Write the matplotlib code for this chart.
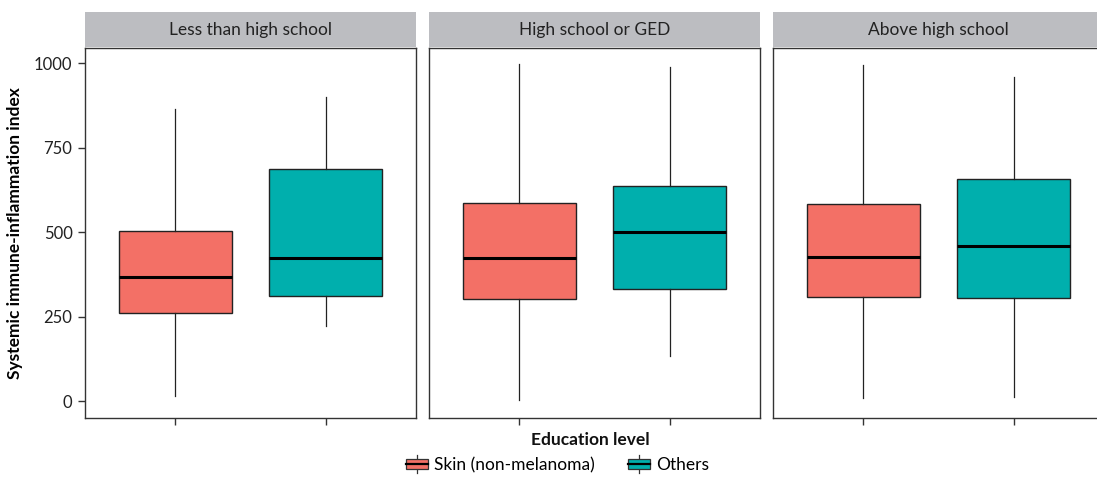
import matplotlib.pyplot as plt
import matplotlib.patches as mpatches
from matplotlib.legend_handler import HandlerBase
from matplotlib.lines import Line2D

plt.rcParams['font.family'] = ['Lato', 'DejaVu Sans']

# education levels (facets) and cancer groups
levels = ['Less than high school', 'High school or GED', 'Above high school']
groups = ['Skin (non-melanoma)', 'Others']
colors = ['#F37066', '#00AFAD']

# box statistics per facet: [skin, others]
whislo = [[16, 223], [2, 133], [10, 12]]
q1 = [[262, 312], [302, 331], [308, 306]]
med = [[366, 423], [423, 500], [427, 459]]
q3 = [[504, 687], [586, 636], [584, 656]]
whishi = [[864, 899], [998, 988], [996, 960]]

fig = plt.figure(figsize=(10.97, 4.79), dpi=100)
W, H = 1097, 479
lefts = [85, 429, 773]
pw = 331
top, bottom = 48, 418
strip_top = 12
frame_col = '#333333'

for k, lev in enumerate(levels):
    ax = fig.add_axes([lefts[k] / W, 1 - bottom / H, pw / W, (bottom - top) / H])
    stats = []
    for g in range(2):
        stats.append(dict(whislo=whislo[k][g], q1=q1[k][g], med=med[k][g],
                          q3=q3[k][g], whishi=whishi[k][g], fliers=[]))
    bp = ax.bxp(stats, positions=[1, 2], widths=0.75, patch_artist=True,
                showcaps=False,
                boxprops=dict(linewidth=1.0, edgecolor='#222222'),
                medianprops=dict(color='black', linewidth=2.2),
                whiskerprops=dict(color='#222222', linewidth=0.9))
    for patch, c in zip(bp['boxes'], colors):
        patch.set_facecolor(c)
    ax.set_xlim(0.4, 2.6)
    ax.set_ylim(-50, 1045)
    ax.set_xticks([1, 2])
    ax.set_xticklabels([])
    ax.set_yticks([0, 250, 500, 750, 1000])
    for sp in ax.spines.values():
        sp.set_color(frame_col)
        sp.set_linewidth(1.0)
    ax.tick_params(axis='x', length=5, width=1, color=frame_col)
    if k == 0:
        ax.tick_params(axis='y', length=5, width=1, color=frame_col,
                       labelsize=12, labelcolor='#222222', pad=4)
        ax.set_ylabel('Systemic immune-inflammation index', fontsize=12.5,
                      fontweight='bold', labelpad=8)
    else:
        ax.tick_params(axis='y', length=0, labelleft=False)

    # facet strip
    sax = fig.add_axes([lefts[k] / W, 1 - (top - 1) / H, pw / W, (top - 1 - strip_top) / H])
    sax.set_facecolor('#BCBDC1')
    sax.set_xticks([])
    sax.set_yticks([])
    for sp in sax.spines.values():
        sp.set_visible(False)
    sax.text(0.5, 0.5, lev, ha='center', va='center', fontsize=12.5,
             color='#222222', transform=sax.transAxes)


class BoxKey(HandlerBase):
    def create_artists(self, legend, orig_handle, xdescent, ydescent,
                       width, height, fontsize, trans):
        c = orig_handle.get_facecolor()
        x0 = -xdescent + width * 0.05
        w = width * 0.9
        rect = mpatches.Rectangle((x0, -ydescent + height * 0.15), w, height * 0.7,
                                  facecolor=c, edgecolor='#333333', lw=0.9,
                                  transform=trans)
        mid = Line2D([x0, x0 + w], [-ydescent + height * 0.5] * 2,
                     color='black', lw=1.6, transform=trans)
        xm = x0 + w / 2
        up = Line2D([xm, xm], [-ydescent + height * 0.85, -ydescent + height * 1.15],
                    color='#333333', lw=0.9, transform=trans)
        dn = Line2D([xm, xm], [-ydescent - height * 0.15, -ydescent + height * 0.15],
                    color='#333333', lw=0.9, transform=trans)
        return [up, dn, rect, mid]


handles = [mpatches.Patch(facecolor=c) for c in colors]
fig.text(590 / W, 1 - 440 / H, 'Education level', ha='center', va='center',
         fontsize=12.5, fontweight='bold', color='#111111')
fig.legend(handles, groups, loc='center', bbox_to_anchor=(557 / W, 1 - 465 / H),
           ncol=2, frameon=False, fontsize=12.5, handler_map={mpatches.Patch: BoxKey()},
           handlelength=1.4, handleheight=0.9, handletextpad=0.3, columnspacing=1.8)

fig.savefig('out.png', dpi=100)
